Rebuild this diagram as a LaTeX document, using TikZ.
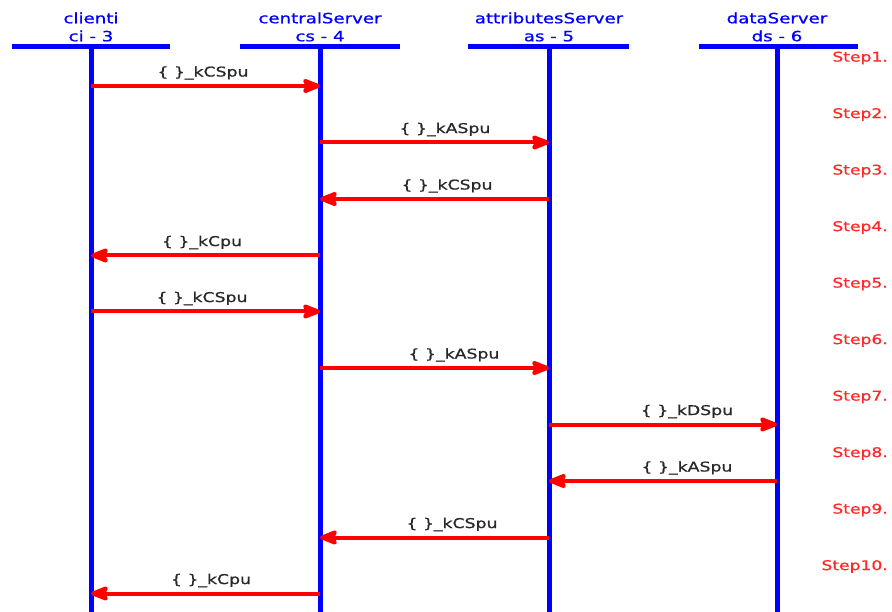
\documentclass[tikz,border=0pt]{standalone}
\usepackage{fontspec}
\newfontfamily\diagfont[FakeStretch=1.28,FakeBold=0.8]{DejaVu Sans}
\usetikzlibrary{arrows.meta}
\definecolor{lblue}{RGB}{0,0,255}
\definecolor{lred}{RGB}{255,0,0}
\definecolor{sred}{RGB}{255,40,40}
\definecolor{lgray}{RGB}{40,40,40}
\begin{document}
\begin{tikzpicture}[x=1pt,y=-1pt,
  hdr/.style={font=\diagfont\fontsize{14.2}{18}\selectfont, text=lblue, inner sep=0pt, align=center},
  bar/.style={draw=lblue, line width=5pt},
  life/.style={draw=lblue, line width=5pt},
  msg/.style={draw=lred, line width=4pt, -{Stealth[length=22pt,width=17pt,inset=4pt,round]}},
  lbl/.style={font=\diagfont\fontsize{13.5}{17}\selectfont, text=lgray, inner sep=0pt},
  steplbl/.style={font=\diagfont\fontsize{13.4}{17}\selectfont, text=sred, inner sep=0pt, anchor=east}]
\useasboundingbox (0,0) rectangle (892,612);
\fill[white] (0,0) rectangle (892,612);
% headers
\node[hdr] (hci) at (91,27) {clienti\\ci - 3};
\node[hdr] (hcs) at (320,27) {centralServer\\cs - 4};
\node[hdr] (has) at (549,27) {attributesServer\\as - 5};
\node[hdr] (hds) at (777,27) {dataServer\\ds - 6};
% lifeline tops and bottoms
\coordinate (ci) at (91,46.5);
\coordinate (cs) at (320,46.5);
\coordinate (as) at (549,46.5);
\coordinate (ds) at (777,46.5);
\coordinate (cib) at (91,612);
\coordinate (csb) at (320,612);
\coordinate (asb) at (549,612);
\coordinate (dsb) at (777,612);
\draw[bar] (12,46.5) -- (170,46.5);
\draw[bar] (240,46.5) -- (400,46.5);
\draw[bar] (468,46.5) -- (629,46.5);
\draw[bar] (699,46.5) -- (858,46.5);
\draw[life] (ci) -- (cib);
\draw[life] (cs) -- (csb);
\draw[life] (as) -- (asb);
\draw[life] (ds) -- (dsb);
% message rows
\foreach \i/\y in {1/86,2/142.5,3/199,4/255.5,5/311.5,6/368,7/424.5,8/481,9/537.5,10/593.5}
  \coordinate (r\i) at (0,\y);
\draw[msg] (ci|-r1) -- (cs|-r1);
\draw[msg] (cs|-r2) -- (as|-r2);
\draw[msg] (as|-r3) -- (cs|-r3);
\draw[msg] (cs|-r4) -- (ci|-r4);
\draw[msg] (ci|-r5) -- (cs|-r5);
\draw[msg] (cs|-r6) -- (as|-r6);
\draw[msg] (as|-r7) -- (ds|-r7);
\draw[msg] (ds|-r8) -- (as|-r8);
\draw[msg] (as|-r9) -- (cs|-r9);
\draw[msg] (cs|-r10) -- (ci|-r10);
% message labels
\node[lbl] (l1) at (203,73) {\{ \}\_kCSpu};
\node[lbl] (l2) at (445,129.5) {\{ \}\_kASpu};
\node[lbl] (l3) at (447,186) {\{ \}\_kCSpu};
\node[lbl] (l4) at (202,242.5) {\{ \}\_kCpu};
\node[lbl] (l5) at (202,298.5) {\{ \}\_kCSpu};
\node[lbl] (l6) at (454,355) {\{ \}\_kASpu};
\node[lbl] (l7) at (687,411.5) {\{ \}\_kDSpu};
\node[lbl] (l8) at (687,468) {\{ \}\_kASpu};
\node[lbl] (l9) at (452,524.5) {\{ \}\_kCSpu};
\node[lbl] (l10) at (211,580.5) {\{ \}\_kCpu};
% steps
\foreach \i/\y in {1/58,2/114.5,3/171,4/227.5,5/284,6/340.5,7/397,8/453.5,9/510,10/566.5}
  \node[steplbl] (s\i) at (888,\y) {Step\i.};
\end{tikzpicture}
\end{document}
